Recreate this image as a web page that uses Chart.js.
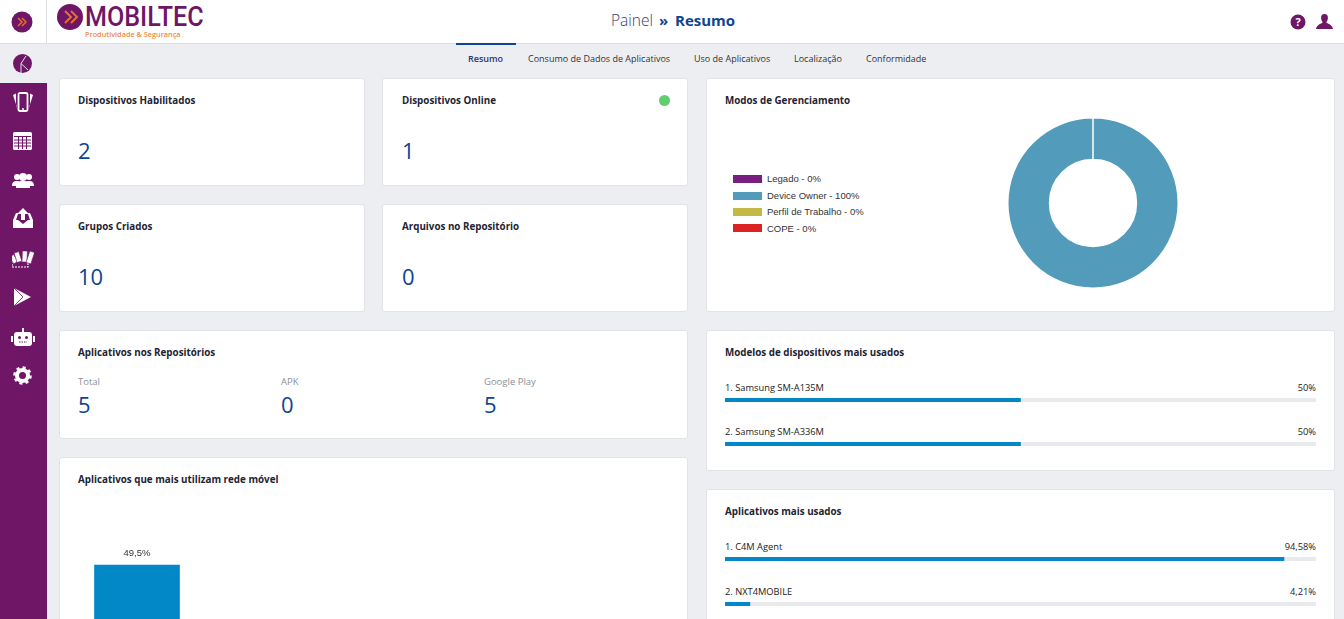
<!DOCTYPE html>
<html lang="pt">
<head>
<meta charset="utf-8">
<title>Painel - Resumo</title>
<script src="https://cdn.jsdelivr.net/npm/chart.js@4"></script>
<style>
  html, body { margin: 0; padding: 0; width: 1344px; height: 619px; overflow: hidden; background: #edeef2; font-family: "Open Sans", sans-serif; color: #222; }
  .abs, .card, .t { position: absolute; }
  .t { white-space: nowrap; line-height: 1; }
  #header { position: absolute; left: 0; top: 0; width: 1344px; height: 43px; background: #fff; border-bottom: 1px solid #dcdde1; }
  #sidebar { position: absolute; left: 0; top: 83px; width: 47px; height: 536px; background: #6f1667; }
  .card { background: #fff; border: 1px solid #e2e3e6; border-radius: 3px; box-sizing: border-box; }
  .title { font-size: 9.8px; font-weight: 700; color: #1d2433; }
  .big { font-size: 22px; color: #0d4591; }
  .small { font-size: 9.3px; color: #222; }
  .tab { font-size: 9px; color: #333; top: 54px; }
  .sub { font-size: 9.5px; color: #8b8f98; }
  canvas { position: absolute; }
  svg { position: absolute; }
  .leg { font-family: "Liberation Sans", sans-serif; font-size: 9.5px; color: #333; }
</style>
</head>
<body>
<div id="header"></div>
<div class="abs" style="left:46px;top:0;width:1px;height:43px;background:#dcdde1"></div>
<div id="sidebar"></div>

<svg style="left:11px;top:11px" width="22" height="22"><circle cx="11" cy="11" r="10.5" fill="#6f1667"/><path d="M7 7l4 4-4 4M11 7l4 4-4 4" fill="none" stroke="#e8702a" stroke-width="1.5"/></svg>
<svg style="left:57px;top:4px" width="26" height="26"><circle cx="13" cy="13" r="13" fill="#6f1667"/><path d="M8 7l6 6-6 6M14 7l6 6-6 6" fill="none" stroke="#e8702a" stroke-width="2"/></svg>
<div class="t" style="left:85px;top:4px;line-height:26px;font-family:'Roboto',sans-serif;font-size:27px;font-weight:500;color:#6f1667;transform-origin:left top;transform:scaleX(.93)">MOBILTEC</div>
<div class="t" style="left:85px;top:31px;font-size:7.3px;font-weight:600;color:#ee8a45">Produtividade &amp; Segurança</div>

<div class="t" style="left:611px;top:13px;font-size:15.5px;font-weight:300;color:#2f3d70">Painel</div>
<div class="t" style="left:659px;top:13px;font-size:15px;font-weight:700;color:#0d4591">»</div>
<div class="t" style="left:675px;top:13px;font-size:15px;font-weight:700;color:#0d4591">Resumo</div>

<svg style="left:1290px;top:14px" width="16" height="16"><circle cx="8" cy="8" r="7.5" fill="#6f1667"/><text x="8" y="12" font-size="11" font-weight="700" font-family="Open Sans" fill="#fff" text-anchor="middle">?</text></svg>
<svg style="left:1316px;top:14px" width="17" height="15"><path d="M8.5 0c2.6 0 3.6 2 3.4 4.2-.2 2-1 3.2-1.6 4 .4 1.3 6.2 2 6.7 6.8H0c.5-4.800 6.300-5.500 6.700-6.800-.6-.8-1.400-2-1.600-4C4.900 2 5.900 0 8.500 0z" fill="#6f1667"/></svg>

<svg style="left:13px;top:54px" width="19" height="19"><circle cx="9.500" cy="9.500" r="9.500" fill="#6f1667"/><path d="M13 2L8 9.500 15 16M8 9.500L8 19" fill="none" stroke="#dfe3e8" stroke-width="1"/></svg>

<!-- sidebar icons -->
<svg style="left:13px;top:92px" width="20" height="20"><path d="M0 3l3-1.500v12l1.500 3.500zM20 3l-3-1.500v12l-1.500 3.500z" fill="#fff"/><rect x="5.500" y="1" width="9" height="18" rx="1.500" fill="none" stroke="#fff" stroke-width="1.800"/><circle cx="10" cy="17" r="1" fill="#fff"/></svg>
<svg style="left:13px;top:132px" width="19" height="18"><rect width="19" height="18" rx="1.500" fill="#fff"/><path d="M1 4.500h17M1 8h17M1 11h17M1 14h17M5.500 4.500V17M9.500 4.500V17M13.500 4.500V17" stroke="#6f1667" stroke-width="1"/></svg>
<svg style="left:12px;top:172px" width="22" height="16"><circle cx="5" cy="5" r="3" fill="#fff"/><circle cx="17" cy="5" r="3" fill="#fff"/><path d="M0 14c0-4 2-5 5-5s5 1 5 5zM12 14c0-4 2-5 5-5s5 1 5 5z" fill="#fff"/><circle cx="11" cy="5" r="4" fill="#fff"/><path d="M4 16c0-6 3-7 7-7s7 1 7 7z" fill="#fff"/></svg>
<svg style="left:13px;top:208px" width="20" height="20"><path d="M3 5h14l3 7v8H0v-8z" fill="#fff"/><path d="M3 12h14l-2-6H5z" fill="#6f1667"/><path d="M5 12l5 4 5-4z" fill="#6f1667"/><path d="M10 0l5 5h-3v7H8V5H5z" fill="#fff"/></svg>
<svg style="left:12px;top:250px" width="22" height="18">
  <rect x="0" y="11" width="16" height="6" fill="none" stroke="#fff" stroke-width="1.200" stroke-dasharray="2 1"/>
  <g fill="#fff" stroke="#6f1667" stroke-width=".6">
    <rect x="1" y="5" width="5" height="8" transform="rotate(-35 3 12)"/>
    <rect x="5" y="2" width="5" height="10" transform="rotate(-18 7 12)"/>
    <rect x="10" y="1" width="5" height="11" transform="rotate(2 12 12)"/>
    <rect x="14" y="1" width="5" height="12" transform="rotate(18 16 13)"/>
  </g>
</svg>
<svg style="left:14px;top:288px" width="18" height="18"><path d="M0 0l17 9L0 18z" fill="#fff"/><path d="M0 0l9 9-9 9" fill="none" stroke="#6f1667" stroke-width=".8"/></svg>
<svg style="left:11px;top:327px" width="24" height="20"><rect x="3" y="5" width="18" height="14" rx="3" fill="#fff"/><rect x="0" y="9" width="2" height="6" fill="#fff"/><rect x="22" y="9" width="2" height="6" fill="#fff"/><rect x="11" y="1" width="2" height="4" fill="#fff"/><circle cx="8.500" cy="10.500" r="1.500" fill="#6f1667"/><circle cx="15.500" cy="10.500" r="1.500" fill="#6f1667"/><path d="M8 15h8" stroke="#6f1667" stroke-dasharray="1.500 1"/></svg>
<svg style="left:13px;top:366px" width="19" height="19"><circle cx="9.500" cy="9.500" r="5.500" fill="none" stroke="#fff" stroke-width="4"/><circle cx="9.500" cy="9.500" r="7.800" fill="none" stroke="#fff" stroke-width="3" stroke-dasharray="3 3.100"/></svg>

<!-- tabs -->
<div class="abs" style="left:456px;top:43px;width:60px;height:2px;background:#0d4591"></div>
<div class="t tab" style="left:468px;font-weight:600;color:#1f3a70">Resumo</div>
<div class="t tab" style="left:528px">Consumo de Dados de Aplicativos</div>
<div class="t tab" style="left:694px">Uso de Aplicativos</div>
<div class="t tab" style="left:794px">Localização</div>
<div class="t tab" style="left:866px">Conformidade</div>

<!-- cards -->
<div class="card" style="left:59px;top:78px;width:306px;height:108px"></div>
<div class="t title" style="left:78px;top:96px">Dispositivos Habilitados</div>
<div class="t big" style="left:78px;top:139px" id="v-hab"></div>

<div class="card" style="left:382px;top:78px;width:306px;height:108px"></div>
<div class="t title" style="left:402px;top:96px">Dispositivos Online</div>
<div class="abs" style="left:659px;top:95px;width:11px;height:11px;border-radius:50%;background:#5fcf70"></div>
<div class="t big" style="left:402px;top:139px" id="v-on"></div>

<div class="card" style="left:59px;top:204px;width:306px;height:108px"></div>
<div class="t title" style="left:78px;top:222px">Grupos Criados</div>
<div class="t big" style="left:78px;top:265px" id="v-grp"></div>

<div class="card" style="left:382px;top:204px;width:306px;height:108px"></div>
<div class="t title" style="left:402px;top:222px">Arquivos no Repositório</div>
<div class="t big" style="left:402px;top:265px" id="v-arq"></div>

<div class="card" style="left:59px;top:330px;width:629px;height:109px"></div>
<div class="t title" style="left:78px;top:348px">Aplicativos nos Repositórios</div>
<div class="t sub" style="left:78px;top:377px">Total</div>
<div class="t sub" style="left:281px;top:377px">APK</div>
<div class="t sub" style="left:484px;top:377px">Google Play</div>
<div class="t big" style="left:78px;top:393px" id="v-total"></div>
<div class="t big" style="left:281px;top:393px" id="v-apk"></div>
<div class="t big" style="left:484px;top:393px" id="v-play"></div>

<div class="card" style="left:59px;top:457px;width:629px;height:300px"></div>
<div class="t title" style="left:78px;top:475px">Aplicativos que mais utilizam rede móvel</div>
<canvas id="redeChart" width="590" height="260" style="left:78px;top:539px"></canvas>

<div class="card" style="left:706px;top:78px;width:629px;height:234px"></div>
<div class="t title" style="left:725px;top:96px">Modos de Gerenciamento</div>
<div id="modosLegend"></div>
<canvas id="modosChart" width="172" height="172" style="left:1007px;top:117px"></canvas>

<div class="card" style="left:706px;top:330px;width:629px;height:141px"></div>
<div class="t title" style="left:725px;top:348px">Modelos de dispositivos mais usados</div>
<div id="modelosList"></div>

<div class="card" style="left:706px;top:489px;width:629px;height:200px"></div>
<div class="t title" style="left:725px;top:507px">Aplicativos mais usados</div>
<div id="appsList"></div>

<script>
// ---------- Data ----------
const habilitados = 2;
const online = 1;
const grupos = 10;
const arquivos = 0;
const repoTotal = 5;
const repoApk = 0;
const repoPlay = 5;

const modosLabels = ["Legado", "Device Owner", "Perfil de Trabalho", "COPE"];
const modosValues = [0, 100, 0, 0];
const modosColors = ["#7a1f82", "#529bbb", "#c4b944", "#dd2222"];

const modelosLabels = ["1. Samsung SM-A135M", "2. Samsung SM-A336M"];
const modelosValues = [50, 50];
const modelosText = ["50%", "50%"];

const appsLabels = ["1. C4M Agent", "2. NXT4MOBILE"];
const appsValues = [94.58, 4.21];
const appsText = ["94,58%", "4,21%"];

// only the first bar shows above the fold, the other slots stay empty
const redeLabels = ["1", "2", "3", "4", "5"];
const redeValues = [49.5, null, null, null, null];

// ---------- Simple numbers ----------
document.getElementById("v-hab").innerText = habilitados;
document.getElementById("v-on").innerText = online;
document.getElementById("v-grp").innerText = grupos;
document.getElementById("v-arq").innerText = arquivos;
document.getElementById("v-total").innerText = repoTotal;
document.getElementById("v-apk").innerText = repoApk;
document.getElementById("v-play").innerText = repoPlay;

// ---------- Doughnut ----------
new Chart(document.getElementById("modosChart"), {
  type: "doughnut",
  data: {
    labels: modosLabels,
    datasets: [{ data: modosValues, backgroundColor: modosColors, borderColor: "#fff", borderWidth: 1.5 }]
  },
  options: {
    responsive: false,
    animation: false,
    cutout: "51%",
    plugins: { legend: { display: false }, tooltip: { enabled: false } }
  }
});

// legend is plain html in the original too
let legendBox = document.getElementById("modosLegend");
let legendTops = [175, 192, 208, 224];
let legendTextTops = [174, 191, 207, 224];
modosLabels.forEach((label, i) => {
  legendBox.innerHTML += `
    <div class="abs" style="left:733px;top:${legendTops[i]}px;width:29px;height:8px;background:${modosColors[i]}"></div>
    <div class="t leg" style="left:767px;top:${legendTextTops[i]}px">${label} - ${modosValues[i]}%</div>`;
});

// ---------- Progress bars ----------
function renderProgress(boxId, labels, values, texts, tops) {
  let box = document.getElementById(boxId);
  labels.forEach((label, i) => {
    box.innerHTML += `
      <div class="t small" style="left:725px;top:${tops[i]}px">${label}</div>
      <div class="t small" style="right:28px;top:${tops[i]}px">${texts[i]}</div>
      <canvas id="${boxId}-${i}" width="591" height="4" style="left:725px;top:${tops[i] + 15}px"></canvas>`;
  });
  // canvases have to exist before the charts, innerHTML += would wipe them
  labels.forEach((label, i) => {
    new Chart(document.getElementById(`${boxId}-${i}`), {
      type: "bar",
      data: {
        labels: [label],
        datasets: [
          { data: [values[i]], backgroundColor: "#0288c6", barPercentage: 1, categoryPercentage: 1 },
          { data: [100 - values[i]], backgroundColor: "#e9eaed", barPercentage: 1, categoryPercentage: 1 }
        ]
      },
      options: {
        responsive: false,
        animation: false,
        indexAxis: "y",
        scales: {
          x: { display: false, stacked: true, min: 0, max: 100 },
          y: { display: false, stacked: true }
        },
        plugins: { legend: { display: false }, tooltip: { enabled: false } }
      }
    });
  });
}

renderProgress("modelosList", modelosLabels, modelosValues, modelosText, [383, 427]);
renderProgress("appsList", appsLabels, appsValues, appsText, [542, 587]);

// ---------- Bar chart ----------
const barValueLabels = {
  id: "barValueLabels",
  afterDatasetsDraw(chart) {
    let ctx = chart.ctx;
    ctx.save();
    ctx.font = "9.5px 'Liberation Sans'";
    ctx.fillStyle = "#333";
    ctx.textAlign = "center";
    chart.getDatasetMeta(0).data.forEach((bar, i) => {
      if (redeValues[i] == null) return;
      ctx.fillText(String(redeValues[i]).replace(".", ",") + "%", bar.x, bar.y - 9);
    });
    ctx.restore();
  }
};

new Chart(document.getElementById("redeChart"), {
  type: "bar",
  data: {
    labels: redeLabels,
    datasets: [{ data: redeValues, backgroundColor: "#0288c6", barThickness: 85 }]
  },
  options: {
    responsive: false,
    animation: false,
    scales: {
      x: { display: false },
      y: { display: false, min: 0, max: 55 }
    },
    plugins: { legend: { display: false }, tooltip: { enabled: false } }
  },
  plugins: [barValueLabels]
});
</script>
</body>
</html>
